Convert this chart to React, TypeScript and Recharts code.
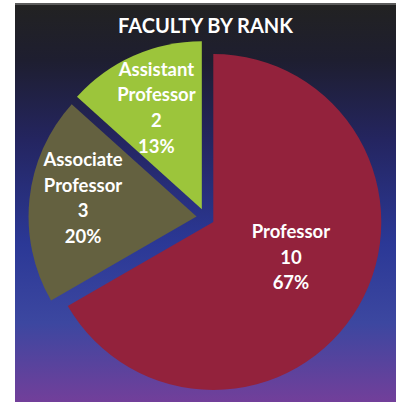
import React from "react";
import { PieChart, Pie, Cell } from "recharts";

const categories = ["Professor", "Associate Professor", "Assistant Professor"];
const counts = [10, 3, 2];
const colors = ["#93223C", "#646140", "#9CC53B"];
const title = "FACULTY BY RANK";

const data = categories.map((name, i) => ({ name, value: counts[i] }));
const total = counts.reduce((a, b) => a + b, 0);

const W = 400;
const H = 402;
const CX = 205.5;
const CY = 217.5;
const R = 168;
const EXPLODE = 9;
const RAD = Math.PI / 180;
const FONT = "Lato, 'Open Sans', sans-serif";

// mid-angle (recharts degrees, counter-clockwise from east) of each slice
const midAngles: number[] = (() => {
  let cum = 0;
  return counts.map((v) => {
    const mid = 90 - (360 * (cum + v / 2)) / total;
    cum += v;
    return mid;
  });
})();

const labelFactors = [0.506, 0.685, 0.665];
const labelShift = [6, -3.5, 0];

const makeLabel = (target: number) => (props: any) => {
  const { cx, cy, midAngle, outerRadius, index, name, value, percent } = props;
  if (index !== target) return null;
  const r = outerRadius * labelFactors[target];
  const a = midAngle + labelShift[target];
  const x = cx + r * Math.cos(-a * RAD);
  const y = cy + r * Math.sin(-a * RAD);
  const lines = [...String(name).split(" "), String(value), `${Math.round(percent * 100)}%`];
  const lh = 25.6;
  const start = y - ((lines.length - 1) / 2) * lh;
  return (
    <text
      x={x}
      y={start}
      fill="#ffffff"
      textAnchor="middle"
      dominantBaseline="central"
      style={{ fontFamily: FONT, fontWeight: 700, fontSize: 18.5 }}
    >
      {lines.map((t, i) => (
        <tspan key={i} x={x} y={start + i * lh}>
          {t}
        </tspan>
      ))}
    </text>
  );
};

export default function App() {
  return (
    <div style={{ position: "absolute", left: 0, top: 0, width: W, height: H, background: "#ffffff" }}>
      <div
        style={{
          position: "absolute",
          left: 15,
          top: 3,
          width: 381,
          height: 399,
          borderTop: "2px solid #5c5c5c",
          boxSizing: "border-box",
          background:
            "linear-gradient(to bottom, #222222 0%, #1e1e30 14%, #242560 34%, #2b3896 60%, #3c47a0 80%, #723f9a 100%)",
        }}
      />
      <svg style={{ position: "absolute", left: 0, top: 0 }} width={W} height={H}>
        <text
          x={205.5}
          y={33}
          fill="#ffffff"
          textAnchor="middle"
          style={{ fontFamily: FONT, fontWeight: 700, fontSize: 20 }}
        >
          {title}
        </text>
      </svg>
      <div style={{ position: "absolute", left: 0, top: 0 }}>
        <PieChart width={W} height={H} margin={{ top: 0, right: 0, bottom: 0, left: 0 }}>
          {categories.map((_, k) => (
            <Pie
              key={k}
              data={data}
              dataKey="value"
              nameKey="name"
              cx={CX + EXPLODE * Math.cos(-midAngles[k] * RAD)}
              cy={CY + EXPLODE * Math.sin(-midAngles[k] * RAD)}
              outerRadius={R}
              innerRadius={0}
              startAngle={90}
              endAngle={-270}
              stroke="none"
              isAnimationActive={false}
              labelLine={false}
              label={makeLabel(k)}
            >
              {data.map((d, i) => (
                <Cell key={d.name} fill={i === k ? colors[i] : "none"} stroke="none" />
              ))}
            </Pie>
          ))}
        </PieChart>
      </div>
    </div>
  );
}
